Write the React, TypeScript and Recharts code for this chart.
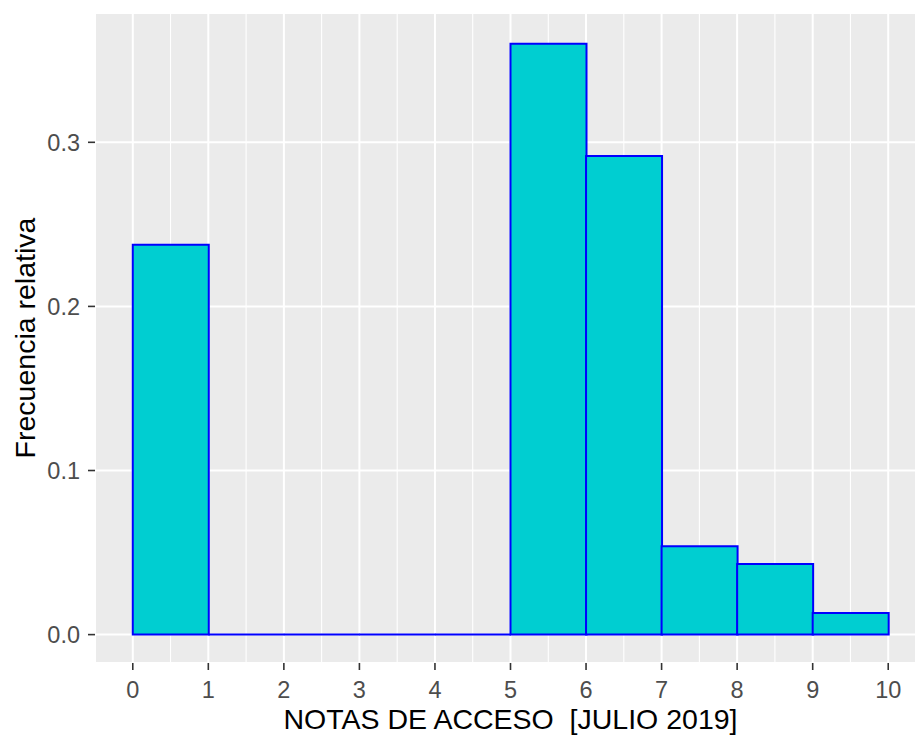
import React from "react";
import { ComposedChart, Bar, XAxis, YAxis, CartesianGrid } from "recharts";

// histogram bins (left edges, width 1) and relative frequencies
const binStarts = [0, 1, 2, 3, 4, 5, 6, 7, 8, 9];
const relFreq = [0.2375, 0, 0, 0, 0, 0.36, 0.2917, 0.0539, 0.0431, 0.0132];

const xTicks = [0, 1, 2, 3, 4, 5, 6, 7, 8, 9, 10];
const xMinorTicks = [0.5, 1.5, 2.5, 3.5, 4.5, 5.5, 6.5, 7.5, 8.5, 9.5];
const yTicks = [0, 0.1, 0.2, 0.3];
const yMinorTicks = [0.05, 0.15, 0.25, 0.35];

const xDomain = [-0.5, 10.5];
const yDomain = [-0.0173, 0.3788];

const data = binStarts.map((start, i) => ({ x: start + 0.5, freq: relFreq[i] }));

const FONT = "'Liberation Sans', Arial, sans-serif";
const tickStyle = { fill: "#4D4D4D", fontSize: 23.5, fontFamily: FONT };

// path instead of rect so empty bins still show as a line on 0
const BinShape = (props: any) => {
  const { x, y, width, height } = props;
  return (
    <path
      d={`M${x},${y}h${width}v${height}h${-width}Z`}
      fill="#00CED1"
      stroke="#0000FF"
      strokeWidth={2}
    />
  );
};

export default function App() {
  return (
    <div
      style={{
        position: "absolute",
        left: 0,
        top: 0,
        width: 915,
        height: 743,
        overflow: "hidden",
        background: "#fff"
      }}
    >
      <ComposedChart
        width={930}
        height={743}
        data={data}
        margin={{ top: 13, right: 4, bottom: 0, left: 0 }}
        barCategoryGap={0}
      >
        <XAxis xAxisId="minor" type="number" dataKey="x" domain={xDomain} ticks={xMinorTicks} hide />
        <YAxis yAxisId="minor" type="number" domain={yDomain} ticks={yMinorTicks} hide />
        <CartesianGrid xAxisId="minor" yAxisId="minor" stroke="#FFFFFF" strokeWidth={1.1} fill="#EBEBEB" />
        <CartesianGrid stroke="#FFFFFF" strokeWidth={2} />
        <XAxis
          type="number"
          dataKey="x"
          domain={xDomain}
          ticks={xTicks}
          height={80}
          axisLine={false}
          tickLine={{ stroke: "#333333", strokeWidth: 1.6 }}
          tickSize={7}
          tickMargin={11}
          tick={tickStyle}
          interval={0}
          label={{
            content: ({ viewBox }: any) => (
              <text
                x={viewBox.x + viewBox.width / 2}
                y={viewBox.y + 66}
                textAnchor="middle"
                fill="#000"
                fontSize={28.5}
                fontFamily={FONT}
                style={{ whiteSpace: "pre" }}
              >
                NOTAS DE ACCESO  [JULIO 2019]
              </text>
            )
          }}
        />
        <YAxis
          type="number"
          domain={yDomain}
          ticks={yTicks}
          width={95}
          axisLine={false}
          tickLine={{ stroke: "#333333", strokeWidth: 1.6 }}
          tickSize={7}
          tickMargin={8}
          tick={tickStyle}
          interval={0}
          tickFormatter={(v: number) => v.toFixed(1)}
          label={{
            content: ({ viewBox }: any) => (
              <text
                transform={`translate(${viewBox.x + 35}, ${viewBox.y + viewBox.height / 2}) rotate(-90)`}
                textAnchor="middle"
                fill="#000"
                fontSize={28.5}
                fontFamily={FONT}
              >
                Frecuencia relativa
              </text>
            )
          }}
        />
        <Bar dataKey="freq" shape={BinShape} isAnimationActive={false} />
      </ComposedChart>
    </div>
  );
}
